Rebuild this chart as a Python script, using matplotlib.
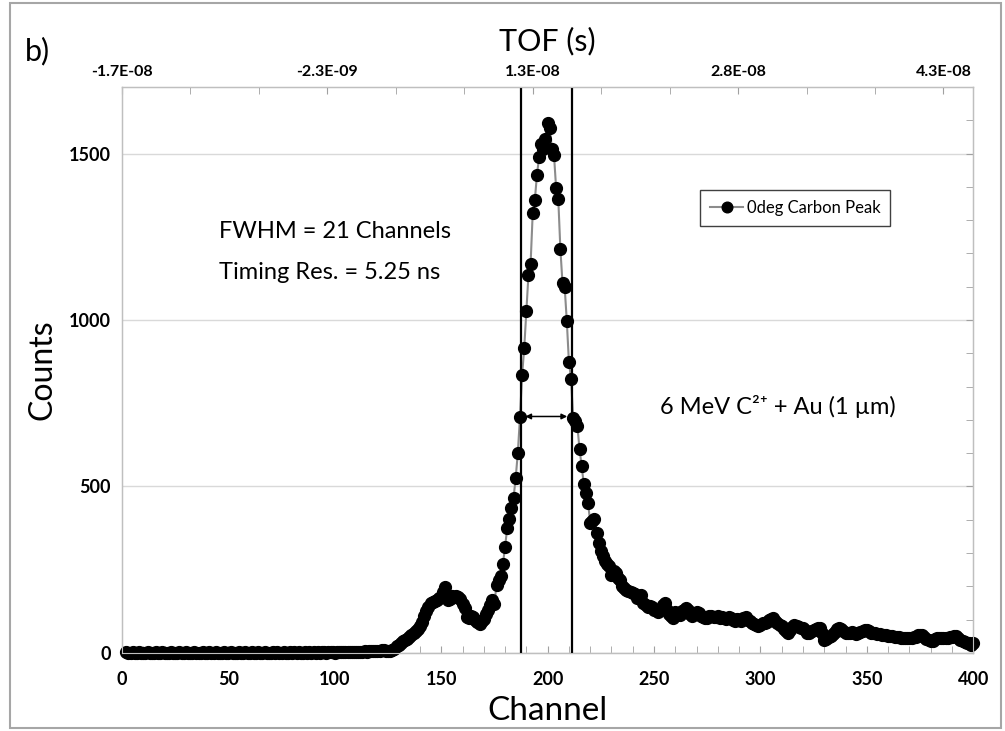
import numpy as np
import matplotlib.pyplot as plt
from matplotlib.ticker import MultipleLocator, FixedLocator
from matplotlib.patches import Rectangle

plt.rcParams['font.family'] = ['Lato', 'DejaVu Sans']

# channel spectrum (one value per channel, 2..400)
channels = np.arange(2, 401)
counts = [
    # 2-21
    1, 0, 0, 1, 0, 0, 1, 0, 0, 0, 1, 0, 0, 0, 1, 0, 0, 1, 0, 0,
    # 22-41
    0, 1, 0, 0, 0, 1, 0, 0, 1, 0, 0, 0, 1, 0, 0, 0, 1, 0, 0, 1,
    # 42-61
    0, 0, 1, 0, 0, 0, 1, 0, 0, 1, 0, 0, 0, 1, 0, 0, 1, 0, 0, 1,
    # 62-81
    0, 0, 1, 0, 0, 1, 0, 0, 0, 1, 0, 1, 0, 0, 1, 0, 0, 1, 0, 1,
    # 82-101
    0, 1, 0, 0, 1, 0, 1, 0, 1, 0, 2, 0, 1, 1, 0, 1, 2, 1, 0, 1,
    # 102-121
    2, 1, 1, 2, 1, 2, 2, 1, 3, 2, 3, 2, 4, 3, 5, 4, 6, 5, 5, 6,
    # 122-141
    9, 8, 5, 4, 6, 8, 12, 19, 24, 29, 34, 38, 42, 47, 52, 58, 64, 72, 80, 92,
    # 142-161
    112, 125, 138, 150, 152, 155, 158, 165, 168, 182, 198, 160, 162, 170, 168, 172, 168, 162, 148, 135,
    # 162-181
    108, 105, 112, 108, 100, 92, 86, 95, 102, 118, 128, 145, 158, 148, 205, 218, 230, 268, 318, 375,
    # 182-201
    402, 436, 466, 526, 601, 707, 834, 915, 1028, 1136, 1169, 1322, 1361, 1437, 1490, 1528, 1515, 1545, 1593, 1578,
    # 202-221
    1515, 1495, 1395, 1364, 1212, 1110, 1100, 998, 874, 824, 704, 697, 680, 611, 561, 506, 481, 451, 391, 395,
    # 222-241
    401, 361, 330, 305, 290, 275, 268, 260, 235, 245, 240, 225, 220, 200, 195, 188, 185, 183, 180, 178,
    # 242-261
    165, 170, 175, 150, 145, 139, 140, 139, 130, 128, 124, 130, 145, 150, 130, 118, 110, 105, 124, 120,
    # 262-281
    115, 125, 130, 135, 128, 118, 112, 118, 124, 120, 112, 108, 106, 105, 110, 112, 108, 109, 112, 106,
    # 282-301
    109, 104, 102, 108, 105, 98, 96, 102, 99, 96, 104, 109, 100, 94, 90, 86, 82, 79, 84, 88,
    # 302-321
    89, 92, 98, 102, 105, 96, 88, 84, 80, 72, 64, 59, 68, 78, 84, 80, 76, 74, 74, 68,
    # 322-341
    60, 58, 64, 68, 72, 74, 74, 60, 39, 42, 46, 49, 55, 62, 70, 74, 70, 65, 60, 58,
    # 342-361
    59, 62, 60, 57, 59, 62, 66, 69, 69, 64, 60, 58, 59, 57, 55, 54, 54, 52, 50, 50,
    # 362-381
    49, 48, 47, 46, 45, 44, 45, 44, 44, 44, 46, 48, 52, 54, 54, 48, 42, 37, 34, 36,
    # 382-400
    40, 43, 44, 44, 44, 44, 44, 46, 48, 49, 49, 45, 38, 34, 33, 30, 29, 24, 30,
]

fwhm_edges = [187.5, 211.3]
fwhm_arrow = [189.5, 209.2]
fwhm_arrow_y = 710

tof_at_zero = -1.7e-08
tof_per_channel = 1.5e-08 / 96.5
tof_ticks = [-1.7e-08, -2.0e-09, 1.3e-08, 2.8e-08, 4.3e-08]
tof_labels = ["-1.7E-08", "-2.3E-09", "1.3E-08", "2.8E-08", "4.3E-08"]
tof_minor_step = 5e-09


def tof_to_ch(t):
    return (np.asarray(t) - tof_at_zero) / tof_per_channel


fig = plt.figure(figsize=(10.05, 7.31), dpi=100)
ax = fig.add_axes([0.1214, 0.107, 0.847, 0.774])

ax.plot(channels, counts, color="#8c8c8c", lw=1.5, marker="o", ms=8.5,
        mfc="black", mec="black", label="0deg Carbon Peak", zorder=3,
        clip_on=False)
for x in fwhm_edges:
    ax.axvline(x, color="black", lw=1.6, zorder=4)
ax.annotate("", xy=(fwhm_arrow[0], fwhm_arrow_y), xytext=(fwhm_arrow[1], fwhm_arrow_y),
            arrowprops=dict(arrowstyle="<|-|>", color="black", lw=1.1,
                            mutation_scale=8, shrinkA=0, shrinkB=0), zorder=5)

ax.set_xlim(0, 400)
ax.set_ylim(0, 1700)
ax.xaxis.set_major_locator(MultipleLocator(50))
ax.xaxis.set_minor_locator(MultipleLocator(10))
ax.yaxis.set_major_locator(MultipleLocator(500))
ax.yaxis.set_minor_locator(MultipleLocator(100))
ax.grid(axis="y", which="major", color="#d9d9d9", lw=1.0, zorder=0)
ax.set_axisbelow(True)

for s in ax.spines.values():
    s.set_color("#bfbfbf")
    s.set_linewidth(1.0)

ax.tick_params(axis="x", which="both", direction="in", color="#a0a0a0",
               bottom=True, top=False, length=5, labelsize=13, pad=13)
ax.tick_params(axis="y", which="both", direction="in", color="#a0a0a0",
               left=False, right=True, labelleft=True, labelright=False,
               length=5, labelsize=13, pad=8)
for lab in ax.get_xticklabels() + ax.get_yticklabels():
    lab.set_fontweight("bold")

# TOF axis on top, same channel scale underneath
top = ax.twiny()
top.set_xlim(ax.get_xlim())
top.set_xticks(tof_to_ch(tof_ticks), tof_labels)
tof_minor = np.arange(tof_ticks[0], tof_ticks[-1] + 2 * tof_minor_step, tof_minor_step)
top.xaxis.set_minor_locator(FixedLocator(tof_to_ch(tof_minor)))
top.tick_params(axis="x", which="both", direction="in", length=5,
                color="#a0a0a0", labelsize=11.5, pad=6)
for s in top.spines.values():
    s.set_color("#bfbfbf")
for lab in top.get_xticklabels():
    lab.set_fontweight("bold")

ax.set_xlabel("Channel", fontsize=24, labelpad=6)
ax.set_ylabel("Counts", fontsize=23, labelpad=8)
top.set_xlabel("TOF (s)", fontsize=22, labelpad=10)

ax.text(0.114, 0.745, "FWHM = 21 Channels", transform=ax.transAxes,
        fontsize=17, va="center")
ax.text(0.114, 0.672, "Timing Res. = 5.25 ns", transform=ax.transAxes,
        fontsize=17, va="center")
ax.text(0.632, 0.436, "6 MeV C\u00b2\u207a + Au (1 \u00b5m)", transform=ax.transAxes,
        fontsize=17, va="center")
fig.text(0.025, 0.93, "b)", fontsize=22, va="center")

leg = ax.legend(loc="upper left", bbox_to_anchor=(0.679, 0.818), borderaxespad=0,
                fontsize=12, frameon=True, fancybox=False, framealpha=1,
                edgecolor="#404040", handlelength=2.0, handletextpad=0.2,
                borderpad=0.6, markerscale=0.9)
leg.get_frame().set_linewidth(1.0)

fig.patches.append(Rectangle((0.010, 0.004), 0.986, 0.992, transform=fig.transFigure,
                             fill=False, edgecolor="#a6a6a6", lw=1.5))

fig.savefig("out.png", dpi=100)
